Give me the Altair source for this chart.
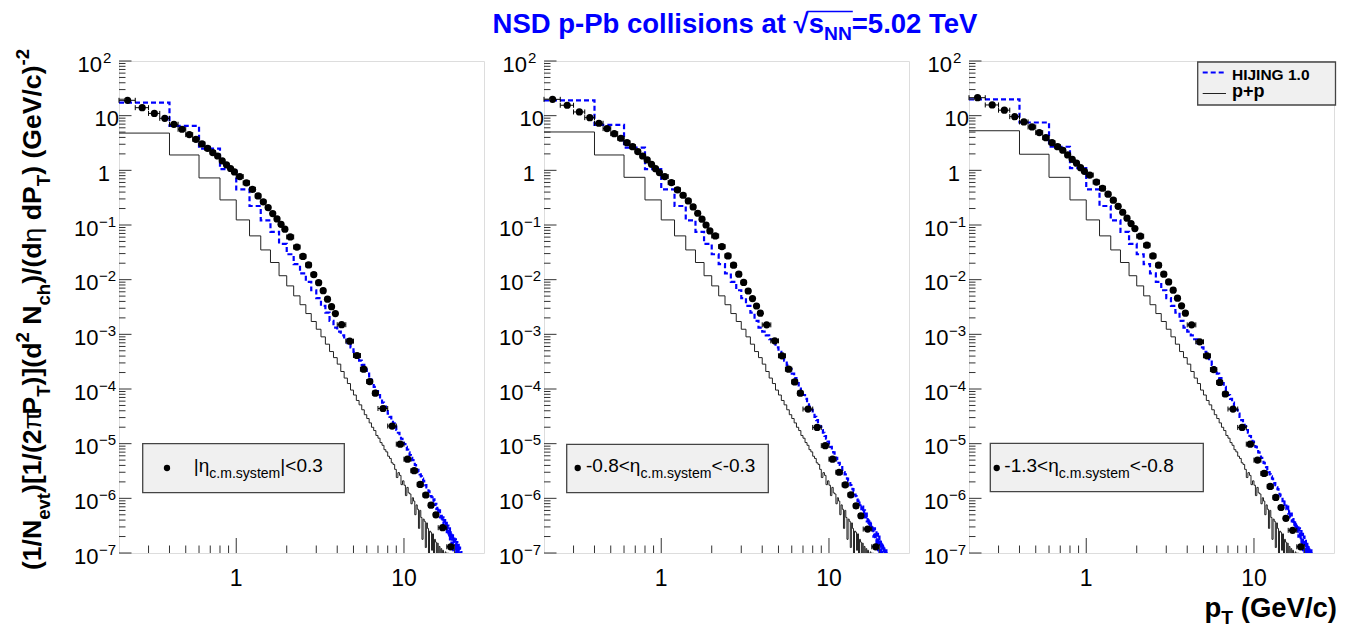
import altair as alt
import pandas as pd

# ------------------------------------------------------------------
# Values
# ------------------------------------------------------------------
# data points (ALICE-like bins): centres and half bin widths in pT
PT = [0.225, 0.275, 0.325, 0.375, 0.425, 0.475, 0.525, 0.575, 0.625, 0.675,
      0.725, 0.775, 0.825, 0.875, 0.925, 0.975,
      1.05, 1.15, 1.25, 1.35, 1.45, 1.55, 1.65, 1.75, 1.85, 1.95,
      2.1, 2.3, 2.5, 2.7, 2.9, 3.1, 3.3, 3.5, 3.7, 3.9,
      4.25, 4.75, 5.25, 5.75, 6.25, 6.75,
      7.5, 8.5, 9.5, 10.5, 11.5, 12.5, 13.5, 14.5, 15.5, 17.0, 19.0]
PT_HALF = [0.025] * 16 + [0.05] * 10 + [0.1] * 10 + [0.25] * 6 + [0.5] * 9 + [1.0] * 2

Y_ETA1 = [19.1, 14.0, 11.0, 8.95, 6.96, 5.64, 4.5, 3.70, 3.04, 2.53, 2.11, 1.83, 1.49, 1.26, 1.08, 0.935,
          0.77, 0.59, 0.45, 0.34, 0.265, 0.208, 0.162, 0.129, 0.103, 0.084,
          0.0605, 0.0395, 0.0266, 0.0186, 0.0124, 0.0088, 0.0063, 0.0044, 0.0032, 0.0024,
          0.0015, 7.5e-4, 4.1e-4, 2.3e-4, 1.37e-4, 8.4e-5,
          4.4e-5, 2.1e-5, 9.8e-6, 5.2e-6, 3.2e-6, 1.8e-6, 1.15e-6, 7.5e-7, 5.0e-7, 2.9e-7, 1.3e-7]
Y_ETA2 = [19.9, 15.5, 11.7, 9.2, 7.26, 5.8, 4.69, 3.86, 3.21, 2.71, 2.2, 1.83, 1.55, 1.29, 1.07, 0.91,
          0.77, 0.596, 0.44, 0.35, 0.276, 0.214, 0.164, 0.128, 0.100, 0.078,
          0.063, 0.0403, 0.0272, 0.0184, 0.0126, 0.0089, 0.0062, 0.0045, 0.0033, 0.00244,
          0.00149, 7.6e-4, 4.05e-4, 2.3e-4, 1.35e-4, 8.4e-5,
          4.3e-5, 1.98e-5, 9.2e-6, 5.2e-6, 3.0e-6, 1.77e-6, 1.16e-6, 7.3e-7, 4.8e-7, 2.74e-7, 1.3e-7]
Y_ETA3 = [21.3, 15.7, 12.6, 9.6, 7.67, 6.21, 4.9, 3.96, 3.21, 2.71, 2.33, 1.91, 1.59, 1.35, 1.12, 0.96,
          0.82, 0.61, 0.47, 0.366, 0.284, 0.22, 0.171, 0.133, 0.106, 0.086,
          0.0624, 0.0427, 0.0272, 0.0184, 0.0126, 0.0091, 0.00643, 0.00459, 0.00332, 0.00244,
          0.00149, 7.3e-4, 4.05e-4, 2.27e-4, 1.32e-4, 8.1e-5,
          4.3e-5, 1.98e-5, 9.8e-6, 5.0e-6, 2.85e-6, 1.65e-6, 1.04e-6, 6.8e-7, 4.3e-7, 2.6e-7, 1.3e-7]

# histograms: 0.2 GeV/c bins starting at 0.2 GeV/c
HIST_START = 0.2
HIST_BIN = 0.2
# first bins differ per panel (plain values), the rest is shared (log10 of the yield)
PP_LOW = {1: [4.8, 1.91, 0.726], 2: [5.03, 1.91, 0.745], 3: [5.3, 1.97, 0.745]}
PP_LOG10 = [-0.541, -0.907, -1.199, -1.456, -1.686, -1.928, -2.114, -2.296, -2.458, -2.62,
            -2.765, -2.907, -3.046, -3.18, -3.315, -3.426, -3.545, -3.68, -3.80, -3.90, -4.02,
            -4.11, -4.21, -4.29, -4.38, -4.47, -4.54, -4.62, -4.70, -4.76, -4.85, -4.90, -4.98,
            -5.03, -5.11, -5.15, -5.23, -5.27, -5.35, -5.38, -5.47,
            -5.62, -5.53, -5.58, -5.75, -5.68, -5.76, -5.95, -5.80, -5.90, -5.92, -6.10, -5.99,
            -6.05, -6.30, -6.12, -6.20, -6.55, -6.22, -6.35, -6.75, -6.38, -6.42, -6.90, -6.45,
            -6.55, -7.30, -6.60, -6.62, -6.95, -6.65, -7.5, -6.75, -6.80, -7.2, -6.82, -9.0,
            -6.88, -7.1, -6.92, -9.0, -6.95, -7.05, -9.0, -6.98, -7.2, -9.0, -7.0, -9.0, -7.05, -9.0]
HIJ_LOW = {1: [17.3, 6.5, 2.5, 1.05], 2: [19.1, 6.76, 2.6, 1.05], 3: [19.9, 7.5, 2.7, 1.1]}
HIJ_LOG10 = [-0.347, -0.652, -0.914, -1.125, -1.345, -1.535, -1.717, -1.886, -2.041, -2.194,
             -2.337, -2.481, -2.602, -2.752, -2.876,
             -2.95, -3.02, -3.09, -3.16, -3.24, -3.32, -3.40, -3.48, -3.56, -3.64, -3.72, -3.80,
             -3.89, -3.96, -4.04, -4.11, -4.18, -4.25, -4.32, -4.38, -4.45, -4.51, -4.57, -4.63,
             -4.69, -4.75, -4.80, -4.86, -4.91, -4.96, -5.01, -5.06, -5.11, -5.16, -5.21, -5.26,
             -5.30, -5.35, -5.39, -5.43, -5.48, -5.52, -5.56, -5.60, -5.64, -5.68, -5.72, -5.76,
             -5.80, -5.83, -5.87, -5.93, -5.96, -5.98, -6.05, -6.02, -6.12, -6.10, -6.20, -6.15,
             -6.28, -6.22, -6.35, -6.28, -6.42, -6.35, -6.50, -6.40, -6.55, -6.45, -6.62, -6.50,
             -6.70, -6.55, -6.75, -6.60, -6.85, -6.65, -6.95, -6.70, -7.05, -6.75, -7.2, -6.8,
             -9.0, -6.85, -7.3, -6.9, -9.0, -6.95, -9.0, -7.0]

# axis ticks and labels
X_MAJOR = [1, 10]
X_MINOR = [0.3, 0.4, 0.5, 0.6, 0.7, 0.8, 0.9, 2, 3, 4, 5, 6, 7, 8, 9, 20]
X_LABELS = ["1", "10"]
Y_DECADES = [1e2, 1e1, 1e0, 1e-1, 1e-2, 1e-3, 1e-4, 1e-5, 1e-6, 1e-7]
Y_EXPONENTS = [2, 1, 0, -1, -2, -3, -4, -5, -6, -7]
Y_MINOR_MULT = [2, 3, 4, 5, 6, 7, 8, 9]

LEGEND_ETA = {
    1: [("|", "n"), ("η", "n"), ("c.m.system", "sub"), ("|<0.3", "n")],
    2: [("-0.8<", "n"), ("η", "n"), ("c.m.system", "sub"), ("<-0.3", "n")],
    3: [("-1.3<", "n"), ("η", "n"), ("c.m.system", "sub"), ("<-0.8", "n")],
}

# ------------------------------------------------------------------
# styling / layout helpers
# ------------------------------------------------------------------
FONT = "Liberation Sans"
W, H = 365, 492
XS = alt.Scale(type="log", domain=[0.2, 30], nice=False)
YS = alt.Scale(type="log", domain=[1e-7, 100], nice=False)
BLUE = "#0000ff"

REG = {' ': 278, '(': 333, ')': 333, '+': 584, '-': 333, '.': 278, '/': 278, '<': 584, '=': 584,
       '[': 278, ']': 278, '|': 260, '−': 584, 'η': 560, 'π': 560, '√': 549,
       'c': 500, 'e': 556, 'm': 833, 's': 500, 't': 278, 'y': 500}
BOLD = {' ': 278, '(': 333, ')': 333, '+': 584, '-': 333, '.': 278, '/': 278, '=': 584,
        '[': 333, ']': 333, '<': 584, '√': 549,
        'D': 722, 'G': 778, 'H': 722, 'I': 278, 'J': 556, 'N': 722, 'P': 667, 'S': 667, 'T': 611,
        'V': 667, 'a': 556, 'b': 611, 'c': 556, 'd': 611, 'e': 556, 'h': 611, 'i': 278, 'l': 278,
        'n': 611, 'o': 611, 'p': 611, 's': 556, 't': 333, 'v': 556}


def tw(s, size, bold=False):
    t = BOLD if bold else REG
    return sum(t.get(ch, 556) for ch in s) * size / 1000.0


def one_text(txt, x, y, size, bold=False, color="black", angle=0, align="left"):
    kw = dict(text=txt, align=align, baseline="alphabetic", font=FONT, fontSize=size,
              fontWeight="bold" if bold else "normal", color=color)
    if angle:
        kw["angle"] = angle
    return alt.Chart(alt.Data(values=[{}])).mark_text(**kw).encode(
        x=alt.value(x), y=alt.value(y))


def rich(segs, x0, y0, size, bold=False, color="black", anchor="left", vertical=False,
         ratio=0.7, sub_shift=0.3, sup_shift=0.42):
    pieces, total = [], 0.0
    for txt, kind in segs:
        s = size * ratio if kind in ("sub", "sup") else size
        b = bold and kind != "g"
        shift = sub_shift * size if kind == "sub" else (-sup_shift * size if kind == "sup" else 0)
        lead = len(txt) - len(txt.lstrip(" "))
        pieces.append((txt.strip(" "), s, b, total + tw(" " * lead, s, b), shift))
        total += tw(txt, s, b)
    start = {"left": 0.0, "center": -total / 2, "right": -total}[anchor]
    layers, pos = [], []
    for txt, s, b, off, shift in pieces:
        if vertical:
            layers.append(one_text(txt, x0 + shift, y0 - (start + off), s, b, color, angle=270))
        else:
            layers.append(one_text(txt, x0 + start + off, y0 + shift, s, b, color))
        pos.append(x0 + start + off)
    return layers, pos, x0 + start + total


def hist_df(low, logs):
    vals = list(low) + [10 ** v for v in logs]
    edges = [round(HIST_START + HIST_BIN * i, 3) for i in range(len(vals) + 1)]
    rows = [{"x": edges[i], "y": vals[i]} for i in range(len(vals))]
    rows.append({"x": edges[-1], "y": vals[-1]})
    return pd.DataFrame(rows)


def X(field):
    return alt.X(field, type="quantitative", scale=XS, axis=None)


def Y(field):
    return alt.Y(field, type="quantitative", scale=YS, axis=None)


def panel(idx, yvals):
    L = []
    # histograms
    pp = hist_df(PP_LOW[idx], PP_LOG10)
    hij = hist_df(HIJ_LOW[idx], HIJ_LOG10)
    L.append(alt.Chart(pp).mark_line(interpolate="step-after", clip=True, color="#222",
                                     strokeWidth=1).encode(x=X("x"), y=Y("y")))
    L.append(alt.Chart(hij).mark_line(interpolate="step-after", clip=True, color=BLUE,
                                      strokeWidth=2.2, strokeDash=[5, 3]).encode(x=X("x"), y=Y("y")))
    # data points with horizontal error bars
    pts = pd.DataFrame({"pt": PT, "y": yvals,
                        "lo": [p - h for p, h in zip(PT, PT_HALF)],
                        "hi": [p + h for p, h in zip(PT, PT_HALF)]})
    base = alt.Chart(pts)
    L.append(base.mark_rule(color="black", strokeWidth=1).encode(x=X("lo"), x2="hi", y=Y("y")))
    for end in ("lo", "hi"):
        L.append(base.mark_rule(color="black", strokeWidth=1, yOffset=-2.5, y2Offset=2.5)
                 .encode(x=X(end), y=Y("y"), y2="y"))
    L.append(base.mark_circle(color="black", opacity=1, size=52).encode(x=X("pt"), y=Y("y")))
    # inward ticks
    tick_color = "#333"
    L.append(alt.Chart(pd.DataFrame({"v": X_MINOR})).mark_rule(color=tick_color).encode(
        x=X("v"), y=alt.value(H), y2=alt.value(H - 7.5)))
    L.append(alt.Chart(pd.DataFrame({"v": X_MAJOR})).mark_rule(color=tick_color).encode(
        x=X("v"), y=alt.value(H), y2=alt.value(H - 15)))
    yminor = [m * d for d in Y_DECADES[1:] for m in Y_MINOR_MULT]
    L.append(alt.Chart(pd.DataFrame({"v": yminor})).mark_rule(color=tick_color).encode(
        y=Y("v"), x=alt.value(0), x2=alt.value(6.5)))
    L.append(alt.Chart(pd.DataFrame({"v": Y_DECADES})).mark_rule(color=tick_color).encode(
        y=Y("v"), x=alt.value(0), x2=alt.value(12.5)))
    # x tick labels
    L.append(alt.Chart(pd.DataFrame({"v": X_MAJOR, "t": X_LABELS})).mark_text(
        font=FONT, fontSize=23, align="center", baseline="alphabetic", dy=0, color="black")
        .encode(x=X("v"), y=alt.value(525), text="t:N"))
    # y tick labels: 10^n drawn as base + superscript
    ydf = pd.DataFrame({"v": Y_DECADES, "e": Y_EXPONENTS})
    plain10 = ydf[ydf.e == 1].assign(t="10")
    plain1 = ydf[ydf.e == 0].assign(t="1")
    pos = ydf[ydf.e >= 2].assign(b="10", s=lambda d: d.e.astype(str))
    neg = ydf[ydf.e < 0].assign(b="10", s=lambda d: "−" + (-d.e).astype(str))
    lab = dict(font=FONT, fontSize=22, baseline="alphabetic", dy=10.5, color="black", align="right")
    sup = dict(font=FONT, fontSize=15, baseline="alphabetic", dy=1.5, color="black", align="left")
    L.append(alt.Chart(plain10).mark_text(**lab).encode(y=Y("v"), x=alt.value(0), text="t:N"))
    L.append(alt.Chart(plain1).mark_text(**lab).encode(y=Y("v"), x=alt.value(-9), text="t:N"))
    L.append(alt.Chart(pos).mark_text(**lab).encode(y=Y("v"), x=alt.value(-17), text="b:N"))
    L.append(alt.Chart(pos).mark_text(**sup).encode(y=Y("v"), x=alt.value(-16), text="s:N"))
    L.append(alt.Chart(neg).mark_text(**lab).encode(y=Y("v"), x=alt.value(-20.5), text="b:N"))
    L.append(alt.Chart(neg).mark_text(**sup).encode(y=Y("v"), x=alt.value(-20), text="s:N"))

    # eta legend box
    box = {1: (23.7, 382.7, 225.3, 431.7, 48.0, 74.7),
           2: (22.7, 383.3, 224.3, 431.7, 33.7, 42.0),
           3: (21.3, 382.3, 234.3, 430.7, 27.7, 35.3)}[idx]
    bx1, by1, bx2, by2, dotx, tx = box
    L.append(alt.Chart(alt.Data(values=[{}])).mark_rect(fill="#f0f0f0", stroke="#444", strokeWidth=1.3)
             .encode(x=alt.value(bx1), x2=alt.value(bx2), y=alt.value(by1), y2=alt.value(by2)))
    L.append(alt.Chart(alt.Data(values=[{}])).mark_circle(color="black", opacity=1, size=40)
             .encode(x=alt.value(dotx), y=alt.value(407)))
    lay, _, _ = rich(LEGEND_ETA[idx], tx, 410.5, 19, ratio=0.74, sub_shift=0.36)
    L += lay

    if idx == 1:
        # y axis title (vertical, rich text)
        ysegs = [("(1/N", "n"), ("evt", "sub"), (")[1/(2", "n"), ("π", "g"), ("P", "n"), ("T", "sub"),
                 (")](d", "n"), ("2", "sup"), (" N", "n"), ("ch", "sub"), (")/(d", "n"), ("η", "g"),
                 (" dP", "n"), ("T", "sub"), (") (GeV/c)", "n"), ("-2", "sup")]
        lay, _, _ = rich(ysegs, -78, 248.5, 26.6, bold=True, anchor="center", vertical=True,
                         ratio=0.7, sub_shift=0.33, sup_shift=0.45)
        L += lay
        # invisible anchor that fixes the page origin
        L.append(alt.Chart(alt.Data(values=[{}])).mark_rule(stroke="white", strokeWidth=1)
                 .encode(x=alt.value(-117.5), x2=alt.value(-117.5), y=alt.value(-59.5), y2=alt.value(-58.5)))
    if idx == 2:
        tsegs = [("NSD p-Pb collisions at ", "n"), ("√", "n"), ("s", "n"), ("NN", "sub"),
                 ("=5.02 TeV", "n")]
        lay, p, _ = rich(tsegs, 192, -28, 27.5, bold=True, color=BLUE, anchor="center",
                         ratio=0.7, sub_shift=0.27)
        L += lay
        x_ol1 = p[1] + tw("√", 27.5, True) - 1.5
        x_ol2 = p[3] + tw("NN", 27.5 * 0.7, True) + 1
        L.append(alt.Chart(alt.Data(values=[{}])).mark_rule(color=BLUE, strokeWidth=1.3)
                 .encode(x=alt.value(x_ol1), x2=alt.value(x_ol2), y=alt.value(-49.5)))
    if idx == 3:
        # HIJING / p+p legend
        L.append(alt.Chart(alt.Data(values=[{}])).mark_rect(fill="#f0f0f0", stroke="#444", strokeWidth=1.3)
                 .encode(x=alt.value(228.7), x2=alt.value(366.5), y=alt.value(1), y2=alt.value(44)))
        L.append(alt.Chart(alt.Data(values=[{}])).mark_rule(color=BLUE, strokeWidth=2, strokeDash=[5, 3])
                 .encode(x=alt.value(233.7), x2=alt.value(256), y=alt.value(11.5)))
        L.append(alt.Chart(alt.Data(values=[{}])).mark_rule(color="#222", strokeWidth=1)
                 .encode(x=alt.value(233.7), x2=alt.value(257), y=alt.value(32.5)))
        L.append(one_text("HIJING 1.0", 263, 19, 15.5, bold=True))
        L.append(one_text("p+p", 263, 36, 18, bold=True))
        # x axis title
        lay, _, _ = rich([("p", "n"), ("T", "sub"), (" (GeV/c)", "n")], 368, 555.5, 27.5, bold=True,
                         anchor="right", ratio=0.7, sub_shift=0.28)
        L += lay
    return alt.layer(*L).properties(width=W, height=H)


chart = alt.hconcat(panel(1, Y_ETA1), panel(2, Y_ETA2), panel(3, Y_ETA3),
                    spacing=60, bounds="flush", padding=0).configure_view(
    stroke="#333", strokeWidth=1.2).configure(background="white")

chart.save("out.html", embed_options={"renderer": "svg", "actions": False})
